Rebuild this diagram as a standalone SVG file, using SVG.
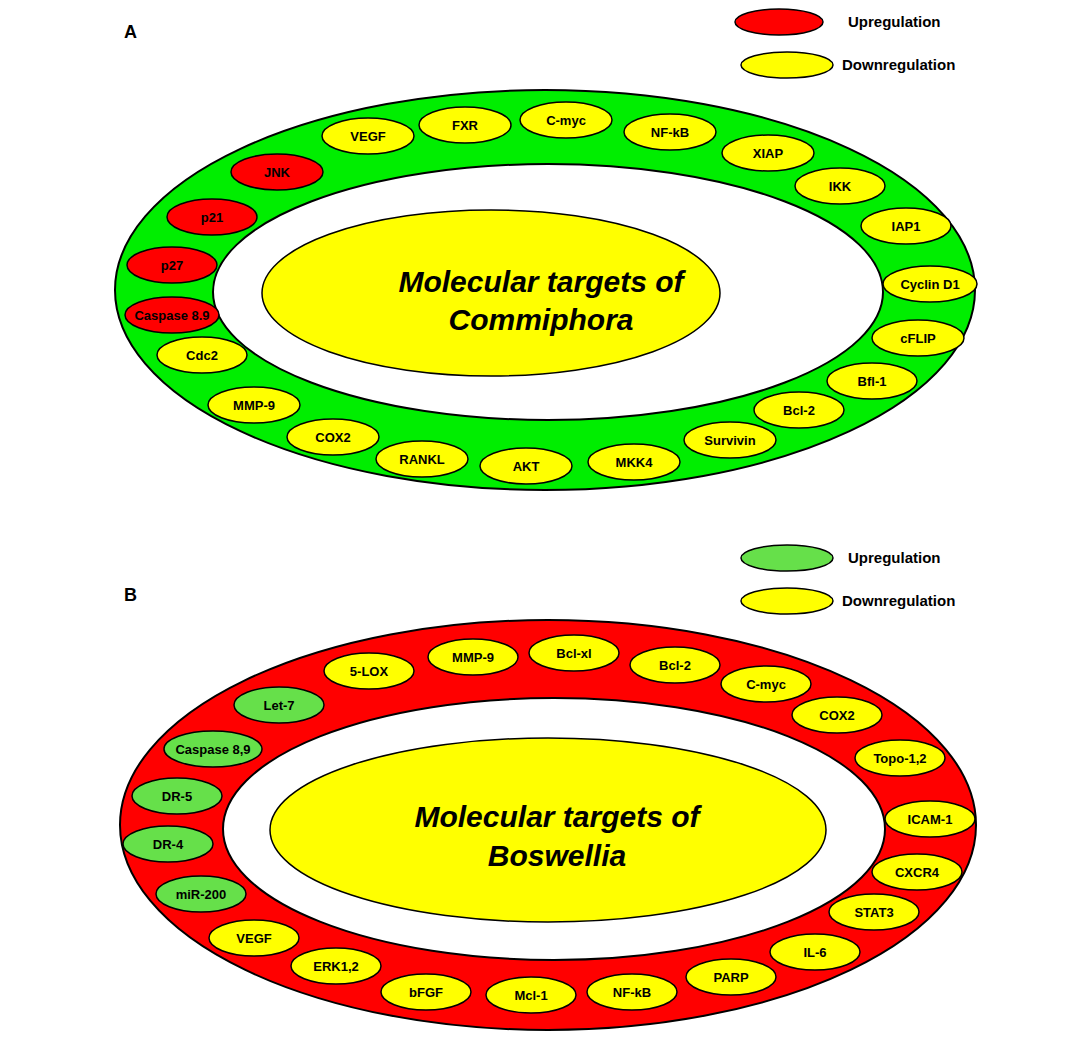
<svg xmlns="http://www.w3.org/2000/svg" width="1078" height="1047" viewBox="0 0 1078 1047">
<style>
text{font-family:"Liberation Sans",Arial,sans-serif;font-weight:bold;fill:#000}
.n{font-size:13px;text-anchor:middle;dominant-baseline:central}
.y{fill:#ffff00;stroke:#000;stroke-width:1.5}
.r{fill:#ff0000;stroke:#000;stroke-width:1.5}
.g{fill:#66e04a;stroke:#000;stroke-width:1.5}
.c{font-size:30px;font-style:italic;text-anchor:middle}
.l{font-size:15px}
</style>
<rect width="1078" height="1047" fill="#fff"/>
<g id="panelA">
<text x="124" y="38" font-size="18">A</text>
<g id="legendA"><ellipse class="r" cx="779" cy="22" rx="44" ry="13"/><text class="l" x="848" y="27">Upregulation</text>
<ellipse class="y" cx="787" cy="65" rx="46" ry="13"/><text class="l" x="842" y="70">Downregulation</text></g>
<ellipse cx="545" cy="290" rx="430" ry="200" fill="#00ee00" stroke="#000" stroke-width="2"/>
<ellipse cx="548" cy="292" rx="335" ry="128" fill="#fff" stroke="#000" stroke-width="2"/>
<g id="centerA"><ellipse class="y" cx="491" cy="293" rx="229" ry="83"/>
<text class="c" x="541" y="292">Molecular targets of</text><text class="c" x="541" y="330">Commiphora</text></g>
<g id="nodesA">
<g id="A-JNK"><ellipse class="r" cx="277" cy="172" rx="46" ry="18"/><text class="n" x="277" y="172">JNK</text></g>
<g id="A-VEGF"><ellipse class="y" cx="368" cy="136" rx="46" ry="18"/><text class="n" x="368" y="136">VEGF</text></g>
<g id="A-FXR"><ellipse class="y" cx="465" cy="125" rx="46" ry="18"/><text class="n" x="465" y="125">FXR</text></g>
<g id="A-Cmyc"><ellipse class="y" cx="566" cy="120" rx="46" ry="18"/><text class="n" x="566" y="120">C-myc</text></g>
<g id="A-NFkB"><ellipse class="y" cx="670" cy="132" rx="46" ry="18"/><text class="n" x="670" y="132">NF-kB</text></g>
<g id="A-XIAP"><ellipse class="y" cx="768" cy="153" rx="46" ry="18"/><text class="n" x="768" y="153">XIAP</text></g>
<g id="A-IKK"><ellipse class="y" cx="840" cy="186" rx="45" ry="18"/><text class="n" x="840" y="186">IKK</text></g>
<g id="A-IAP1"><ellipse class="y" cx="906" cy="226" rx="45" ry="18"/><text class="n" x="906" y="226">IAP1</text></g>
<g id="A-CyclinD1"><ellipse class="y" cx="930" cy="284" rx="47" ry="18"/><text class="n" x="930" y="284">Cyclin D1</text></g>
<g id="A-cFLIP"><ellipse class="y" cx="918" cy="338" rx="46" ry="18"/><text class="n" x="918" y="338">cFLIP</text></g>
<g id="A-Bfl1"><ellipse class="y" cx="872" cy="381" rx="45" ry="18"/><text class="n" x="872" y="381">Bfl-1</text></g>
<g id="A-Bcl2"><ellipse class="y" cx="799" cy="410" rx="45" ry="18"/><text class="n" x="799" y="410">Bcl-2</text></g>
<g id="A-Survivin"><ellipse class="y" cx="730" cy="440" rx="46" ry="18"/><text class="n" x="730" y="440">Survivin</text></g>
<g id="A-MKK4"><ellipse class="y" cx="634" cy="462" rx="46" ry="18"/><text class="n" x="634" y="462">MKK4</text></g>
<g id="A-AKT"><ellipse class="y" cx="526" cy="466" rx="46" ry="18"/><text class="n" x="526" y="466">AKT</text></g>
<g id="A-RANKL"><ellipse class="y" cx="422" cy="459" rx="46" ry="18"/><text class="n" x="422" y="459">RANKL</text></g>
<g id="A-COX2"><ellipse class="y" cx="333" cy="437" rx="46" ry="18"/><text class="n" x="333" y="437">COX2</text></g>
<g id="A-MMP9"><ellipse class="y" cx="254" cy="405" rx="46" ry="18"/><text class="n" x="254" y="405">MMP-9</text></g>
<g id="A-Cdc2"><ellipse class="y" cx="202" cy="355" rx="45" ry="18"/><text class="n" x="202" y="355">Cdc2</text></g>
<g id="A-Casp"><ellipse class="r" cx="172" cy="315" rx="47" ry="18"/><text class="n" x="172" y="315">Caspase 8.9</text></g>
<g id="A-p27"><ellipse class="r" cx="172" cy="265" rx="45" ry="18"/><text class="n" x="172" y="265">p27</text></g>
<g id="A-p21"><ellipse class="r" cx="212" cy="217" rx="45" ry="18"/><text class="n" x="212" y="217">p21</text></g>
</g>
</g>
<g id="panelB">
<text x="124" y="601" font-size="18">B</text>
<g id="legendB"><ellipse class="g" cx="787" cy="558" rx="46" ry="13"/><text class="l" x="848" y="563">Upregulation</text>
<ellipse class="y" cx="787" cy="601" rx="46" ry="13"/><text class="l" x="842" y="606">Downregulation</text></g>
<ellipse cx="548" cy="825" rx="428" ry="205" fill="#ff0000" stroke="#000" stroke-width="2"/>
<ellipse cx="554" cy="829" rx="331" ry="131" fill="#fff" stroke="#000" stroke-width="2"/>
<g id="centerB"><ellipse class="y" cx="548" cy="830" rx="278" ry="92"/>
<text class="c" x="557" y="827">Molecular targets of</text><text class="c" x="557" y="866">Boswellia</text></g>
<g id="nodesB">
<g id="B-5LOX"><ellipse class="y" cx="369" cy="671" rx="45" ry="18"/><text class="n" x="369" y="671">5-LOX</text></g>
<g id="B-MMP9"><ellipse class="y" cx="473" cy="657" rx="45" ry="18"/><text class="n" x="473" y="657">MMP-9</text></g>
<g id="B-Bclxl"><ellipse class="y" cx="574" cy="653" rx="45" ry="18"/><text class="n" x="574" y="653">Bcl-xl</text></g>
<g id="B-Bcl2"><ellipse class="y" cx="675" cy="665" rx="45" ry="18"/><text class="n" x="675" y="665">Bcl-2</text></g>
<g id="B-Cmyc"><ellipse class="y" cx="766" cy="684" rx="45" ry="18"/><text class="n" x="766" y="684">C-myc</text></g>
<g id="B-COX2"><ellipse class="y" cx="837" cy="715" rx="45" ry="18"/><text class="n" x="837" y="715">COX2</text></g>
<g id="B-Topo"><ellipse class="y" cx="900" cy="758" rx="45" ry="18"/><text class="n" x="900" y="758">Topo-1,2</text></g>
<g id="B-ICAM1"><ellipse class="y" cx="930" cy="819" rx="45" ry="18"/><text class="n" x="930" y="819">ICAM-1</text></g>
<g id="B-CXCR4"><ellipse class="y" cx="917" cy="872" rx="45" ry="18"/><text class="n" x="917" y="872">CXCR4</text></g>
<g id="B-STAT3"><ellipse class="y" cx="874" cy="912" rx="45" ry="18"/><text class="n" x="874" y="912">STAT3</text></g>
<g id="B-IL6"><ellipse class="y" cx="815" cy="952" rx="45" ry="18"/><text class="n" x="815" y="952">IL-6</text></g>
<g id="B-PARP"><ellipse class="y" cx="731" cy="977" rx="45" ry="18"/><text class="n" x="731" y="977">PARP</text></g>
<g id="B-NFkB"><ellipse class="y" cx="632" cy="992" rx="45" ry="18"/><text class="n" x="632" y="992">NF-kB</text></g>
<g id="B-Mcl1"><ellipse class="y" cx="531" cy="995" rx="45" ry="18"/><text class="n" x="531" y="995">Mcl-1</text></g>
<g id="B-bFGF"><ellipse class="y" cx="426" cy="992" rx="45" ry="18"/><text class="n" x="426" y="992">bFGF</text></g>
<g id="B-ERK"><ellipse class="y" cx="336" cy="966" rx="45" ry="18"/><text class="n" x="336" y="966">ERK1,2</text></g>
<g id="B-VEGF"><ellipse class="y" cx="254" cy="938" rx="45" ry="18"/><text class="n" x="254" y="938">VEGF</text></g>
<g id="B-miR200"><ellipse class="g" cx="201" cy="894" rx="45" ry="18"/><text class="n" x="201" y="894">miR-200</text></g>
<g id="B-DR4"><ellipse class="g" cx="168" cy="844" rx="45" ry="18"/><text class="n" x="168" y="844">DR-4</text></g>
<g id="B-DR5"><ellipse class="g" cx="177" cy="796" rx="45" ry="18"/><text class="n" x="177" y="796">DR-5</text></g>
<g id="B-Casp"><ellipse class="g" cx="213" cy="749" rx="49" ry="18"/><text class="n" x="213" y="749">Caspase 8,9</text></g>
<g id="B-Let7"><ellipse class="g" cx="279" cy="705" rx="45" ry="18"/><text class="n" x="279" y="705">Let-7</text></g>
</g>
</g>
<g id="connectors"/>
</svg>
